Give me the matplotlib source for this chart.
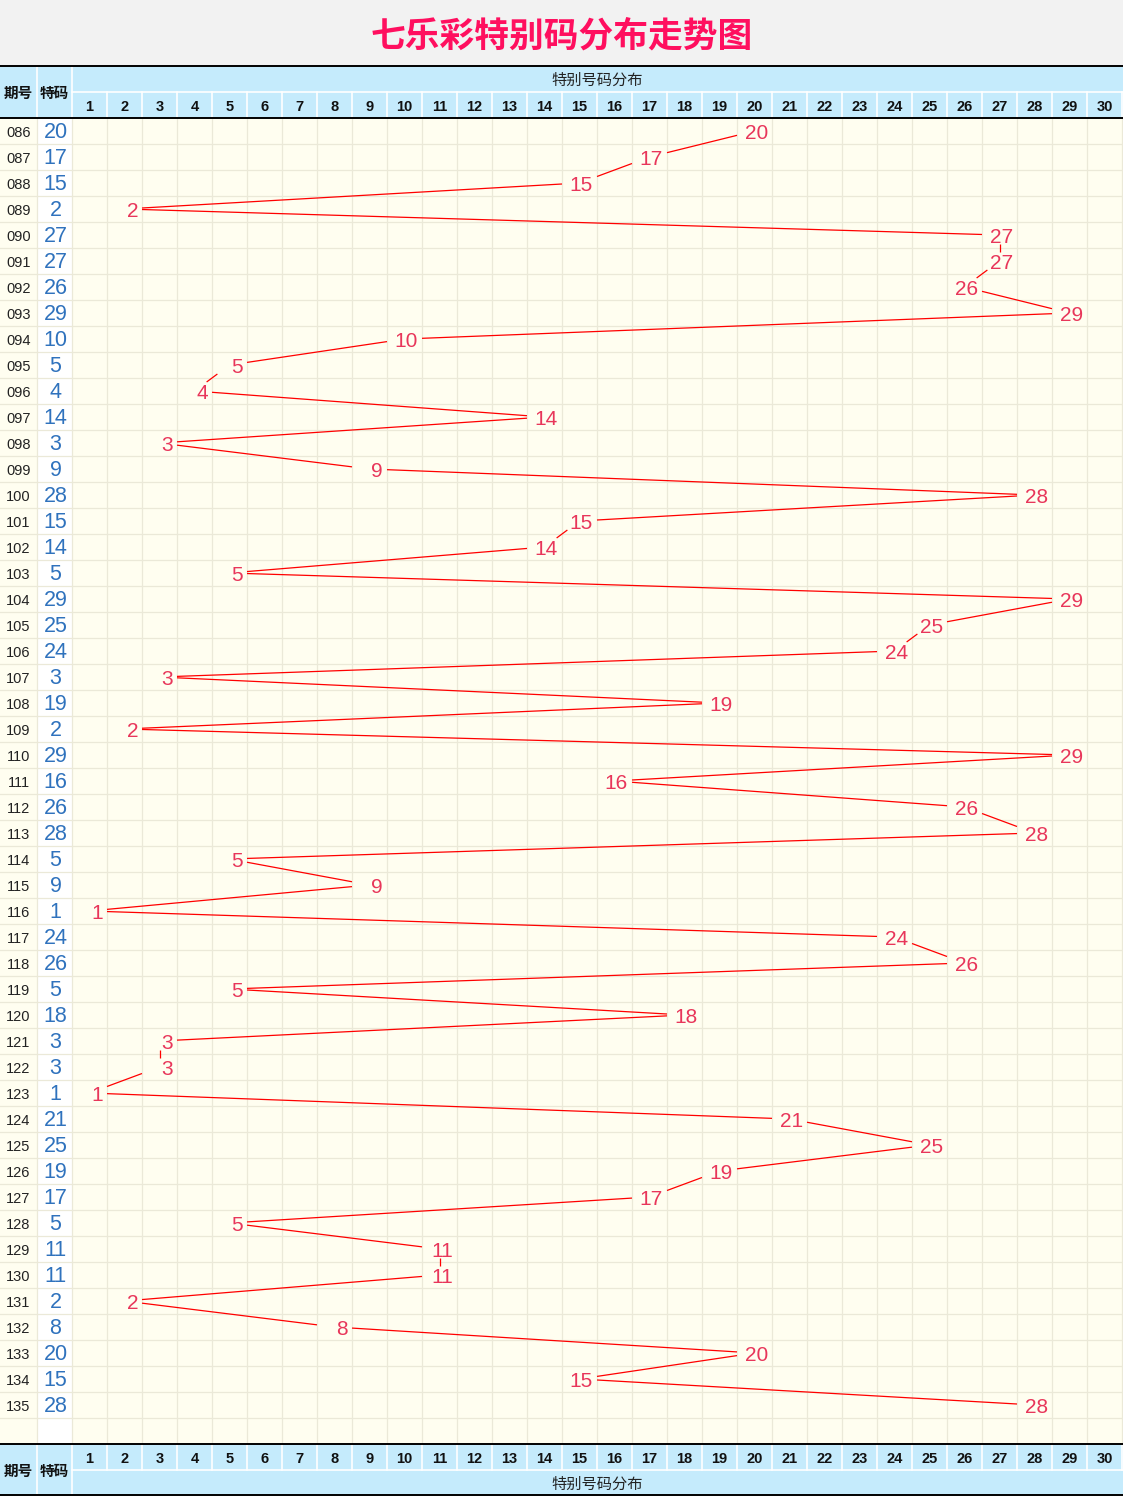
import matplotlib
matplotlib.use("Agg")
import matplotlib.pyplot as plt
from matplotlib.patches import Rectangle

plt.rcParams['font.family'] = ['Noto Sans CJK SC', 'DejaVu Sans']

# ---------------- data ----------------
title = "七乐彩特别码分布走势图"
issues = ['086', '087', '088', '089', '090', '091', '092', '093', '094', '095',
          '096', '097', '098', '099', '100', '101', '102', '103', '104', '105',
          '106', '107', '108', '109', '110', '111', '112', '113', '114', '115',
          '116', '117', '118', '119', '120', '121', '122', '123', '124', '125',
          '126', '127', '128', '129', '130', '131', '132', '133', '134', '135']
specials = [20, 17, 15, 2, 27, 27, 26, 29, 10, 5,
            4, 14, 3, 9, 28, 15, 14, 5, 29, 25,
            24, 3, 19, 2, 29, 16, 26, 28, 5, 9,
            1, 24, 26, 5, 18, 3, 3, 1, 21, 25,
            19, 17, 5, 11, 11, 2, 8, 20, 15, 28]
numbers = list(range(1, 31))
col_issue = "期号"
col_special = "特码"
group_label = "特别号码分布"

# ---------------- layout (pixels) ----------------
W, H = 1123, 1497
TITLE_H = 66
HDR_H = 52
ROW_H = 26
X_ISSUE = 37
X_GRID = 72
COL_W = 35
n_rows = len(issues) + 1
grid_top = TITLE_H + HDR_H
grid_bot = grid_top + ROW_H * n_rows
grid_right = X_GRID + COL_W * len(numbers)

C_TITLE_BG = '#f2f2f2'
C_HDR = '#c5ebfc'
C_CELL = '#fffef0'
C_GRIDLINE = '#ebe9d8'
C_TITLE = '#ff0f5f'
C_LABEL = '#e8365a'
C_SPECIAL = '#2f72bd'
C_LINE = '#ff0000'

fig = plt.figure(figsize=(W / 100, H / 100), dpi=100)
bg = fig.add_axes([0, 0, 1, 1])
bg.set_xlim(0, W)
bg.set_ylim(H, 0)
bg.axis('off')

# backgrounds
bg.add_patch(Rectangle((0, 0), W, TITLE_H, color=C_TITLE_BG, lw=0))
bg.add_patch(Rectangle((0, TITLE_H), W, HDR_H, color=C_HDR, lw=0))
bg.add_patch(Rectangle((0, grid_top), W, grid_bot - grid_top, color=C_CELL, lw=0))
bg.add_patch(Rectangle((X_ISSUE, grid_top), X_GRID - X_ISSUE, grid_bot - grid_top, color='white', lw=0))
bg.add_patch(Rectangle((0, grid_bot), W, HDR_H, color=C_HDR, lw=0))

# grid lines
for k in range(1, n_rows):
    y = grid_top + ROW_H * k
    bg.plot([0, grid_right], [y, y], color=C_GRIDLINE, lw=0.9, zorder=1)
vx = [X_ISSUE, X_GRID] + [X_GRID + COL_W * k for k in range(1, len(numbers) + 1)]
for x in vx:
    bg.plot([x, x], [grid_top, grid_bot], color=C_GRIDLINE, lw=0.9, zorder=1)

# header white separators
half = HDR_H / 2
for top, numrow_top in [(TITLE_H, TITLE_H + half), (grid_bot, grid_bot)]:
    for x in [X_ISSUE, X_GRID]:
        bg.plot([x, x], [top, top + HDR_H], color='white', lw=1.2, zorder=2)
    for k in range(1, len(numbers) + 1):
        x = X_GRID + COL_W * k
        bg.plot([x, x], [numrow_top, numrow_top + half], color='white', lw=1.2, zorder=2)
    ysep = top + half
    bg.plot([X_GRID, W], [ysep, ysep], color='white', lw=1.2, zorder=2)

# black border lines
for y in [TITLE_H, grid_top, grid_bot, grid_bot + HDR_H - 1]:
    bg.plot([0, W], [y, y], color='black', lw=1.4, zorder=3)

# title
bg.text(W / 2, 36, title, ha='center', va='center', fontsize=25, color=C_TITLE, fontweight='bold')

# header texts
for top, numrow_top, grp_top in [(TITLE_H, TITLE_H + half, TITLE_H), (grid_bot, grid_bot, grid_bot + half)]:
    bg.text(X_ISSUE / 2, top + half + 1, col_issue, ha='center', va='center', fontsize=10.5, fontweight='bold', color='#111111')
    bg.text((X_ISSUE + X_GRID) / 2, top + half + 1, col_special, ha='center', va='center', fontsize=10.5, fontweight='bold', color='#111111')
    bg.text((X_GRID + grid_right) / 2, grp_top + half / 2 + 1, group_label, ha='center', va='center', fontsize=11, color='#222222')
    for k, n in enumerate(numbers):
        bg.text(X_GRID + COL_W * (k + 0.5), numrow_top + half / 2 + 2, str(n), ha='center', va='center',
                fontsize=10.5, color='#111111', family='Liberation Sans', fontweight='bold')

# left columns
for i, (iss, sp) in enumerate(zip(issues, specials)):
    yc = grid_top + ROW_H * (i + 0.5)
    bg.text(X_ISSUE / 2, yc + 2, iss, ha='center', va='center', fontsize=10.5, color='#222222',
            family='Liberation Sans')
    bg.text((X_ISSUE + X_GRID) / 2 + 1, yc + 2, str(sp), ha='center', va='center', fontsize=15.5, color=C_SPECIAL,
            family='Liberation Sans')

# ---------------- trend axes (data coords) ----------------
ax = fig.add_axes([X_GRID / W, (H - grid_bot) / H, (grid_right - X_GRID) / W, (grid_bot - grid_top) / H])
ax.set_xlim(0.5, len(numbers) + 0.5)
ax.set_ylim(n_rows - 0.5, -0.5)
ax.axis('off')
ax.patch.set_alpha(0)

rows = list(range(len(specials)))
half_w = 0.5 * COL_W
half_h = 9.0
for i in range(len(specials) - 1):
    x1, y1 = specials[i], rows[i]
    x2, y2 = specials[i + 1], rows[i + 1]
    dxp = abs(x2 - x1) * COL_W
    dyp = abs(y2 - y1) * ROW_H
    t = min(half_w / dxp if dxp else 1e9, half_h / dyp if dyp else 1e9)
    if 2 * t >= 1:
        continue
    sx, sy = x1 + t * (x2 - x1), y1 + t * (y2 - y1)
    ex, ey = x2 - t * (x2 - x1), y2 - t * (y2 - y1)
    ax.plot([sx, ex], [sy, ey], color=C_LINE, lw=0.9, solid_capstyle='butt')

for r, v in zip(rows, specials):
    ax.text(v + 0.5 - 4 / COL_W, r + 0.08, str(v), ha='right', va='center', fontsize=15,
            color=C_LABEL, family='Liberation Sans')

fig.savefig('out.png', dpi=100)
